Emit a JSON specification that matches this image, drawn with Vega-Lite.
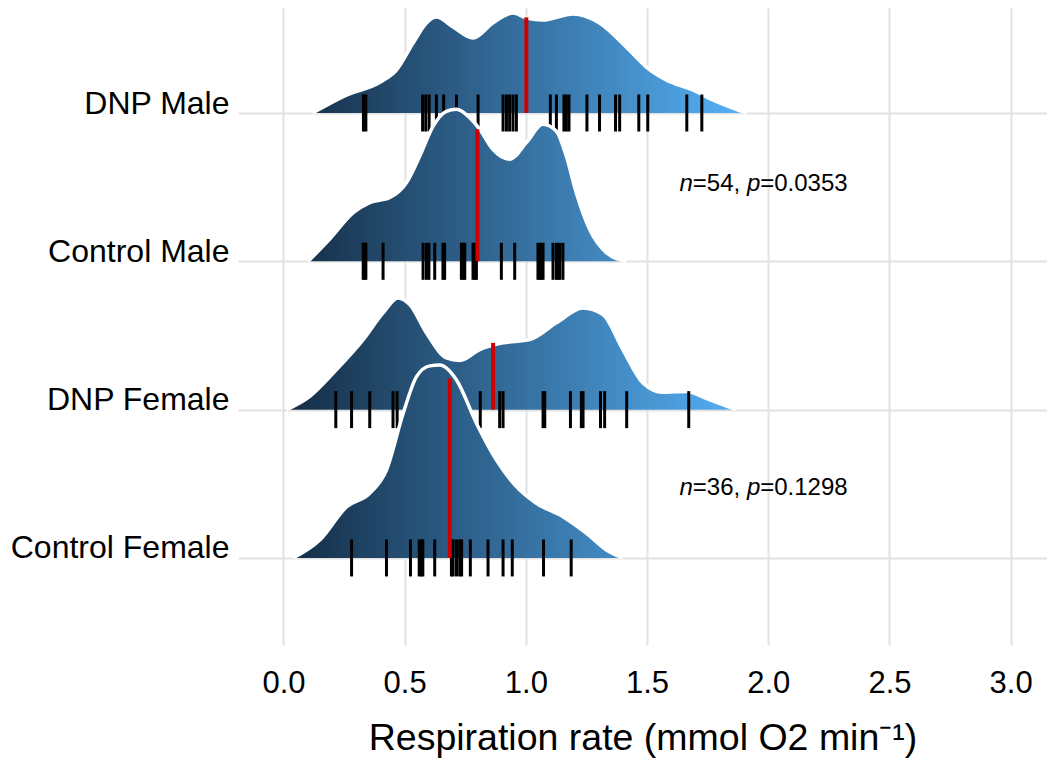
{
  "$schema": "https://vega.github.io/schema/vega-lite/v6.json",
  "width": 809,
  "height": 637,
  "autosize": {"type": "none"},
  "padding": {"left": 238, "top": 8, "right": 0, "bottom": 120},
  "background": "white",
  "config": {
    "view": {"stroke": null},
    "font": "Liberation Sans",
    "axis": {"gridColor": "#e2e2e2", "gridWidth": 2, "domain": false, "ticks": false, "labelColor": "#000000", "titleColor": "#000000", "labelFont": "Liberation Sans", "titleFont": "Liberation Sans", "titleFontWeight": "normal", "labelLimit": 0}
  },
  "datasets": {
    "dens": [
      {"g": "DNP Male", "x": 0.12, "y": 4.0, "base": 4},
      {"g": "DNP Male", "x": 0.26, "y": 4.121, "base": 4},
      {"g": "DNP Male", "x": 0.40, "y": 4.209, "base": 4},
      {"g": "DNP Male", "x": 0.466, "y": 4.29, "base": 4},
      {"g": "DNP Male", "x": 0.535, "y": 4.472, "base": 4},
      {"g": "DNP Male", "x": 0.59, "y": 4.607, "base": 4},
      {"g": "DNP Male", "x": 0.631, "y": 4.647, "base": 4},
      {"g": "DNP Male", "x": 0.70, "y": 4.58, "base": 4},
      {"g": "DNP Male", "x": 0.782, "y": 4.506, "base": 4},
      {"g": "DNP Male", "x": 0.864, "y": 4.607, "base": 4},
      {"g": "DNP Male", "x": 0.947, "y": 4.674, "base": 4},
      {"g": "DNP Male", "x": 1.002, "y": 4.641, "base": 4},
      {"g": "DNP Male", "x": 1.07, "y": 4.627, "base": 4},
      {"g": "DNP Male", "x": 1.194, "y": 4.668, "base": 4},
      {"g": "DNP Male", "x": 1.304, "y": 4.607, "base": 4},
      {"g": "DNP Male", "x": 1.414, "y": 4.445, "base": 4},
      {"g": "DNP Male", "x": 1.497, "y": 4.31, "base": 4},
      {"g": "DNP Male", "x": 1.579, "y": 4.223, "base": 4},
      {"g": "DNP Male", "x": 1.689, "y": 4.155, "base": 4},
      {"g": "DNP Male", "x": 1.771, "y": 4.088, "base": 4},
      {"g": "DNP Male", "x": 1.909, "y": 4.0, "base": 4},
      {"g": "Control Male", "x": 0.102, "y": 3.0, "base": 3},
      {"g": "Control Male", "x": 0.19, "y": 3.148, "base": 3},
      {"g": "Control Male", "x": 0.288, "y": 3.328, "base": 3},
      {"g": "Control Male", "x": 0.356, "y": 3.396, "base": 3},
      {"g": "Control Male", "x": 0.439, "y": 3.43, "base": 3},
      {"g": "Control Male", "x": 0.508, "y": 3.531, "base": 3},
      {"g": "Control Male", "x": 0.562, "y": 3.708, "base": 3},
      {"g": "Control Male", "x": 0.617, "y": 3.91, "base": 3},
      {"g": "Control Male", "x": 0.672, "y": 4.011, "base": 3},
      {"g": "Control Male", "x": 0.714, "y": 4.025, "base": 3},
      {"g": "Control Male", "x": 0.768, "y": 3.969, "base": 3},
      {"g": "Control Male", "x": 0.81, "y": 3.89, "base": 3},
      {"g": "Control Male", "x": 0.864, "y": 3.755, "base": 3},
      {"g": "Control Male", "x": 0.933, "y": 3.688, "base": 3},
      {"g": "Control Male", "x": 1.002, "y": 3.8, "base": 3},
      {"g": "Control Male", "x": 1.07, "y": 3.924, "base": 3},
      {"g": "Control Male", "x": 1.126, "y": 3.877, "base": 3},
      {"g": "Control Male", "x": 1.167, "y": 3.708, "base": 3},
      {"g": "Control Male", "x": 1.208, "y": 3.463, "base": 3},
      {"g": "Control Male", "x": 1.263, "y": 3.216, "base": 3},
      {"g": "Control Male", "x": 1.332, "y": 3.059, "base": 3},
      {"g": "Control Male", "x": 1.414, "y": 3.0, "base": 3},
      {"g": "DNP Female", "x": 0.013, "y": 2.0, "base": 2},
      {"g": "DNP Female", "x": 0.109, "y": 2.09, "base": 2},
      {"g": "DNP Female", "x": 0.219, "y": 2.27, "base": 2},
      {"g": "DNP Female", "x": 0.329, "y": 2.472, "base": 2},
      {"g": "DNP Female", "x": 0.411, "y": 2.652, "base": 2},
      {"g": "DNP Female", "x": 0.473, "y": 2.753, "base": 2},
      {"g": "DNP Female", "x": 0.521, "y": 2.708, "base": 2},
      {"g": "DNP Female", "x": 0.59, "y": 2.517, "base": 2},
      {"g": "DNP Female", "x": 0.672, "y": 2.349, "base": 2},
      {"g": "DNP Female", "x": 0.727, "y": 2.332, "base": 2},
      {"g": "DNP Female", "x": 0.81, "y": 2.405, "base": 2},
      {"g": "DNP Female", "x": 0.906, "y": 2.45, "base": 2},
      {"g": "DNP Female", "x": 1.016, "y": 2.472, "base": 2},
      {"g": "DNP Female", "x": 1.126, "y": 2.585, "base": 2},
      {"g": "DNP Female", "x": 1.235, "y": 2.686, "base": 2},
      {"g": "DNP Female", "x": 1.318, "y": 2.641, "base": 2},
      {"g": "DNP Female", "x": 1.40, "y": 2.405, "base": 2},
      {"g": "DNP Female", "x": 1.483, "y": 2.18, "base": 2},
      {"g": "DNP Female", "x": 1.565, "y": 2.117, "base": 2},
      {"g": "DNP Female", "x": 1.661, "y": 2.123, "base": 2},
      {"g": "DNP Female", "x": 1.757, "y": 2.067, "base": 2},
      {"g": "DNP Female", "x": 1.867, "y": 2.0, "base": 2},
      {"g": "Control Female", "x": 0.04, "y": 1.0, "base": 1},
      {"g": "Control Female", "x": 0.15, "y": 1.121, "base": 1},
      {"g": "Control Female", "x": 0.26, "y": 1.344, "base": 1},
      {"g": "Control Female", "x": 0.356, "y": 1.436, "base": 1},
      {"g": "Control Female", "x": 0.425, "y": 1.593, "base": 1},
      {"g": "Control Female", "x": 0.494, "y": 1.976, "base": 1},
      {"g": "Control Female", "x": 0.549, "y": 2.223, "base": 1},
      {"g": "Control Female", "x": 0.604, "y": 2.295, "base": 1},
      {"g": "Control Female", "x": 0.645, "y": 2.301, "base": 1},
      {"g": "Control Female", "x": 0.714, "y": 2.2, "base": 1},
      {"g": "Control Female", "x": 0.796, "y": 1.908, "base": 1},
      {"g": "Control Female", "x": 0.878, "y": 1.661, "base": 1},
      {"g": "Control Female", "x": 0.961, "y": 1.481, "base": 1},
      {"g": "Control Female", "x": 1.043, "y": 1.369, "base": 1},
      {"g": "Control Female", "x": 1.153, "y": 1.278, "base": 1},
      {"g": "Control Female", "x": 1.249, "y": 1.167, "base": 1},
      {"g": "Control Female", "x": 1.332, "y": 1.054, "base": 1},
      {"g": "Control Female", "x": 1.40, "y": 1.0, "base": 1}
    ],
    "rug": [
      {"g": "DNP Male", "x": 0.33, "base": 4}, {"g": "DNP Male", "x": 0.34, "base": 4},
      {"g": "DNP Male", "x": 0.574, "base": 4}, {"g": "DNP Male", "x": 0.587, "base": 4},
      {"g": "DNP Male", "x": 0.601, "base": 4}, {"g": "DNP Male", "x": 0.631, "base": 4},
      {"g": "DNP Male", "x": 0.661, "base": 4}, {"g": "DNP Male", "x": 0.714, "base": 4},
      {"g": "DNP Male", "x": 0.803, "base": 4}, {"g": "DNP Male", "x": 0.906, "base": 4},
      {"g": "DNP Male", "x": 0.92, "base": 4}, {"g": "DNP Male", "x": 0.933, "base": 4},
      {"g": "DNP Male", "x": 0.947, "base": 4}, {"g": "DNP Male", "x": 0.961, "base": 4},
      {"g": "DNP Male", "x": 1.101, "base": 4}, {"g": "DNP Male", "x": 1.126, "base": 4},
      {"g": "DNP Male", "x": 1.157, "base": 4}, {"g": "DNP Male", "x": 1.167, "base": 4},
      {"g": "DNP Male", "x": 1.178, "base": 4}, {"g": "DNP Male", "x": 1.252, "base": 4},
      {"g": "DNP Male", "x": 1.304, "base": 4}, {"g": "DNP Male", "x": 1.37, "base": 4},
      {"g": "DNP Male", "x": 1.387, "base": 4}, {"g": "DNP Male", "x": 1.466, "base": 4},
      {"g": "DNP Male", "x": 1.503, "base": 4}, {"g": "DNP Male", "x": 1.664, "base": 4},
      {"g": "DNP Male", "x": 1.726, "base": 4},
      {"g": "Control Male", "x": 0.329, "base": 3}, {"g": "Control Male", "x": 0.335, "base": 3},
      {"g": "Control Male", "x": 0.34, "base": 3}, {"g": "Control Male", "x": 0.411, "base": 3},
      {"g": "Control Male", "x": 0.576, "base": 3}, {"g": "Control Male", "x": 0.59, "base": 3},
      {"g": "Control Male", "x": 0.6, "base": 3}, {"g": "Control Male", "x": 0.624, "base": 3},
      {"g": "Control Male", "x": 0.658, "base": 3}, {"g": "Control Male", "x": 0.665, "base": 3},
      {"g": "Control Male", "x": 0.734, "base": 3}, {"g": "Control Male", "x": 0.742, "base": 3},
      {"g": "Control Male", "x": 0.748, "base": 3}, {"g": "Control Male", "x": 0.782, "base": 3},
      {"g": "Control Male", "x": 0.79, "base": 3}, {"g": "Control Male", "x": 0.796, "base": 3},
      {"g": "Control Male", "x": 0.899, "base": 3}, {"g": "Control Male", "x": 0.954, "base": 3},
      {"g": "Control Male", "x": 1.05, "base": 3}, {"g": "Control Male", "x": 1.058, "base": 3},
      {"g": "Control Male", "x": 1.064, "base": 3}, {"g": "Control Male", "x": 1.071, "base": 3},
      {"g": "Control Male", "x": 1.112, "base": 3}, {"g": "Control Male", "x": 1.126, "base": 3},
      {"g": "Control Male", "x": 1.132, "base": 3}, {"g": "Control Male", "x": 1.14, "base": 3},
      {"g": "Control Male", "x": 1.153, "base": 3},
      {"g": "DNP Female", "x": 0.216, "base": 2}, {"g": "DNP Female", "x": 0.281, "base": 2},
      {"g": "DNP Female", "x": 0.356, "base": 2}, {"g": "DNP Female", "x": 0.452, "base": 2},
      {"g": "DNP Female", "x": 0.469, "base": 2}, {"g": "DNP Female", "x": 0.521, "base": 2},
      {"g": "DNP Female", "x": 0.812, "base": 2}, {"g": "DNP Female", "x": 0.892, "base": 2},
      {"g": "DNP Female", "x": 0.906, "base": 2}, {"g": "DNP Female", "x": 1.071, "base": 2},
      {"g": "DNP Female", "x": 1.078, "base": 2}, {"g": "DNP Female", "x": 1.184, "base": 2},
      {"g": "DNP Female", "x": 1.229, "base": 2}, {"g": "DNP Female", "x": 1.236, "base": 2},
      {"g": "DNP Female", "x": 1.308, "base": 2}, {"g": "DNP Female", "x": 1.325, "base": 2},
      {"g": "DNP Female", "x": 1.416, "base": 2}, {"g": "DNP Female", "x": 1.672, "base": 2},
      {"g": "Control Female", "x": 0.281, "base": 1}, {"g": "Control Female", "x": 0.425, "base": 1},
      {"g": "Control Female", "x": 0.524, "base": 1}, {"g": "Control Female", "x": 0.569, "base": 1},
      {"g": "Control Female", "x": 0.575, "base": 1}, {"g": "Control Female", "x": 0.624, "base": 1},
      {"g": "Control Female", "x": 0.693, "base": 1}, {"g": "Control Female", "x": 0.70, "base": 1},
      {"g": "Control Female", "x": 0.714, "base": 1}, {"g": "Control Female", "x": 0.727, "base": 1},
      {"g": "Control Female", "x": 0.735, "base": 1}, {"g": "Control Female", "x": 0.771, "base": 1},
      {"g": "Control Female", "x": 0.844, "base": 1}, {"g": "Control Female", "x": 0.906, "base": 1},
      {"g": "Control Female", "x": 0.944, "base": 1}, {"g": "Control Female", "x": 1.073, "base": 1},
      {"g": "Control Female", "x": 1.187, "base": 1}, {"g": "Control Female", "x": 0.56, "base": 1}
    ],
    "med": [
      {"g": "DNP Male", "x": 1.002, "base": 4, "top": 4.645},
      {"g": "Control Male", "x": 0.80, "base": 3, "top": 3.89},
      {"g": "DNP Female", "x": 0.865, "base": 2, "top": 2.45},
      {"g": "Control Female", "x": 0.686, "base": 1, "top": 2.21}
    ],
    "ann": [
      {"x": 1.634, "y": 3.519, "nval": "=54,", "pval": "=0.0353"},
      {"x": 1.634, "y": 1.472, "nval": "=36,", "pval": "=0.1298"}
    ]
  },
  "layer": [
    {
      "data": {"name": "dens"},
      "transform": [{"filter": "datum.g === 'DNP Male'"}],
      "mark": {"type": "area", "interpolate": "monotone", "fill": {"gradient": "linear", "x1": 0, "y1": 0, "x2": 1, "y2": 0, "stops": [{"offset": 0, "color": "#17334E"}, {"offset": 1, "color": "#56B1F7"}]}, "fillOpacity": 1},
      "encoding": {
        "x": {"field": "x", "type": "quantitative", "scale": {"domain": [-0.1875, 3.15], "nice": false, "zero": false}, "axis": {"values": [0, 0.5, 1, 1.5, 2, 2.5, 3], "format": ".1f", "labelFontSize": 31, "labelPadding": 23, "title": "Respiration rate (mmol O2 min⁻¹)", "titleFontSize": 37.5, "titlePadding": 21, "grid": true}},
        "y": {"field": "y", "type": "quantitative", "scale": {"domain": [0.413, 4.708], "nice": false, "zero": false}, "axis": {"values": [1, 2, 3, 4], "labelExpr": "['', 'Control Female', 'DNP Female', 'Control Male', 'DNP Male'][datum.value]", "labelFontSize": 32, "labelPadding": 9, "labelBaseline": "alphabetic", "title": null, "grid": true}},
        "y2": {"field": "base"}
      }
    },
    {
      "data": {"name": "dens"},
      "transform": [{"filter": "datum.g === 'DNP Male'"}],
      "mark": {"type": "line", "interpolate": "monotone", "stroke": "white", "strokeWidth": 3.5},
      "encoding": {"x": {"field": "x", "type": "quantitative"}, "y": {"field": "y", "type": "quantitative"}}
    },
    {
      "data": {"name": "rug"},
      "transform": [{"filter": "datum.g === 'DNP Male'"}],
      "mark": {"type": "tick", "orient": "vertical", "color": "black", "size": 37, "thickness": 3, "opacity": 1},
      "encoding": {"x": {"field": "x", "type": "quantitative"}, "y": {"field": "base", "type": "quantitative"}}
    },
    {
      "data": {"name": "med"},
      "transform": [{"filter": "datum.g === 'DNP Male'"}],
      "mark": {"type": "rule", "color": "#cc0000", "strokeWidth": 4},
      "encoding": {"x": {"field": "x", "type": "quantitative"}, "y": {"field": "base", "type": "quantitative"}, "y2": {"field": "top"}}
    },
    {
      "data": {"name": "dens"},
      "transform": [{"filter": "datum.g === 'Control Male'"}],
      "mark": {"type": "area", "interpolate": "monotone", "fill": {"gradient": "linear", "x1": 0, "y1": 0, "x2": 1, "y2": 0, "stops": [{"offset": 0, "color": "#17324C"}, {"offset": 1, "color": "#458EC8"}]}, "fillOpacity": 1},
      "encoding": {"x": {"field": "x", "type": "quantitative"}, "y": {"field": "y", "type": "quantitative"}, "y2": {"field": "base"}}
    },
    {
      "data": {"name": "dens"},
      "transform": [{"filter": "datum.g === 'Control Male'"}],
      "mark": {"type": "line", "interpolate": "monotone", "stroke": "white", "strokeWidth": 3.5},
      "encoding": {"x": {"field": "x", "type": "quantitative"}, "y": {"field": "y", "type": "quantitative"}}
    },
    {
      "data": {"name": "rug"},
      "transform": [{"filter": "datum.g === 'Control Male'"}],
      "mark": {"type": "tick", "orient": "vertical", "color": "black", "size": 37, "thickness": 3, "opacity": 1},
      "encoding": {"x": {"field": "x", "type": "quantitative"}, "y": {"field": "base", "type": "quantitative"}}
    },
    {
      "data": {"name": "med"},
      "transform": [{"filter": "datum.g === 'Control Male'"}],
      "mark": {"type": "rule", "color": "#cc0000", "strokeWidth": 4},
      "encoding": {"x": {"field": "x", "type": "quantitative"}, "y": {"field": "base", "type": "quantitative"}, "y2": {"field": "top"}}
    },
    {
      "data": {"name": "dens"},
      "transform": [{"filter": "datum.g === 'DNP Female'"}],
      "mark": {"type": "area", "interpolate": "monotone", "fill": {"gradient": "linear", "x1": 0, "y1": 0, "x2": 1, "y2": 0, "stops": [{"offset": 0, "color": "#142C44"}, {"offset": 1, "color": "#54AEF3"}]}, "fillOpacity": 1},
      "encoding": {"x": {"field": "x", "type": "quantitative"}, "y": {"field": "y", "type": "quantitative"}, "y2": {"field": "base"}}
    },
    {
      "data": {"name": "dens"},
      "transform": [{"filter": "datum.g === 'DNP Female'"}],
      "mark": {"type": "line", "interpolate": "monotone", "stroke": "white", "strokeWidth": 3.5},
      "encoding": {"x": {"field": "x", "type": "quantitative"}, "y": {"field": "y", "type": "quantitative"}}
    },
    {
      "data": {"name": "rug"},
      "transform": [{"filter": "datum.g === 'DNP Female'"}],
      "mark": {"type": "tick", "orient": "vertical", "color": "black", "size": 37, "thickness": 3, "opacity": 1},
      "encoding": {"x": {"field": "x", "type": "quantitative"}, "y": {"field": "base", "type": "quantitative"}}
    },
    {
      "data": {"name": "med"},
      "transform": [{"filter": "datum.g === 'DNP Female'"}],
      "mark": {"type": "rule", "color": "#cc0000", "strokeWidth": 4},
      "encoding": {"x": {"field": "x", "type": "quantitative"}, "y": {"field": "base", "type": "quantitative"}, "y2": {"field": "top"}}
    },
    {
      "data": {"name": "dens"},
      "transform": [{"filter": "datum.g === 'Control Female'"}],
      "mark": {"type": "area", "interpolate": "monotone", "fill": {"gradient": "linear", "x1": 0, "y1": 0, "x2": 1, "y2": 0, "stops": [{"offset": 0, "color": "#142E47"}, {"offset": 1, "color": "#448DC7"}]}, "fillOpacity": 1},
      "encoding": {"x": {"field": "x", "type": "quantitative"}, "y": {"field": "y", "type": "quantitative"}, "y2": {"field": "base"}}
    },
    {
      "data": {"name": "dens"},
      "transform": [{"filter": "datum.g === 'Control Female'"}],
      "mark": {"type": "line", "interpolate": "monotone", "stroke": "white", "strokeWidth": 3.5},
      "encoding": {"x": {"field": "x", "type": "quantitative"}, "y": {"field": "y", "type": "quantitative"}}
    },
    {
      "data": {"name": "rug"},
      "transform": [{"filter": "datum.g === 'Control Female'"}],
      "mark": {"type": "tick", "orient": "vertical", "color": "black", "size": 37, "thickness": 3, "opacity": 1},
      "encoding": {"x": {"field": "x", "type": "quantitative"}, "y": {"field": "base", "type": "quantitative"}}
    },
    {
      "data": {"name": "med"},
      "transform": [{"filter": "datum.g === 'Control Female'"}],
      "mark": {"type": "rule", "color": "#cc0000", "strokeWidth": 4},
      "encoding": {"x": {"field": "x", "type": "quantitative"}, "y": {"field": "base", "type": "quantitative"}, "y2": {"field": "top"}}
    },
    {
      "data": {"name": "ann"},
      "mark": {"type": "text", "text": "n", "fontStyle": "italic", "fontSize": 24, "align": "left", "baseline": "middle", "color": "black", "dx": 0},
      "encoding": {"x": {"field": "x", "type": "quantitative"}, "y": {"field": "y", "type": "quantitative"}}
    },
    {
      "data": {"name": "ann"},
      "mark": {"type": "text", "fontSize": 24, "align": "left", "baseline": "middle", "color": "black", "dx": 13.3},
      "encoding": {"x": {"field": "x", "type": "quantitative"}, "y": {"field": "y", "type": "quantitative"}, "text": {"field": "nval"}}
    },
    {
      "data": {"name": "ann"},
      "mark": {"type": "text", "text": "p", "fontStyle": "italic", "fontSize": 24, "align": "left", "baseline": "middle", "color": "black", "dx": 67.4},
      "encoding": {"x": {"field": "x", "type": "quantitative"}, "y": {"field": "y", "type": "quantitative"}}
    },
    {
      "data": {"name": "ann"},
      "mark": {"type": "text", "fontSize": 24, "align": "left", "baseline": "middle", "color": "black", "dx": 80.7},
      "encoding": {"x": {"field": "x", "type": "quantitative"}, "y": {"field": "y", "type": "quantitative"}, "text": {"field": "pval"}}
    }
  ]
}
